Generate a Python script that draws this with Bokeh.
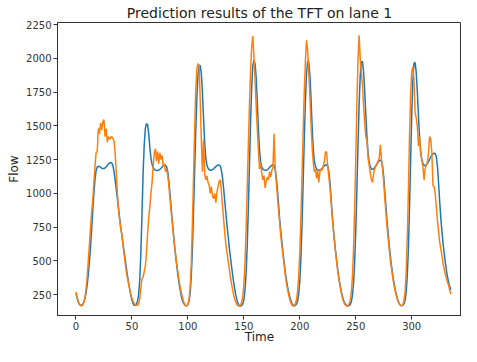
from bokeh.plotting import figure
from bokeh.models import FixedTicker, Range1d
from bokeh.embed import file_html
from bokeh.resources import INLINE

title_text = "Prediction results of the TFT on lane 1"
x_label = "Time"
y_label = "Flow"
x_ticks = [0, 50, 100, 150, 200, 250, 300, 350]
y_ticks = [250, 500, 750, 1000, 1250, 1500, 1750, 2000, 2250]

# smooth series (blue), one value per time step, day by day
pred_day1 = [260, 225, 195, 178, 170, 170, 178, 195, 220, 260, 320, 400, 490, 600, 730, 870, 1000, 1100, 1170, 1195,
             1200, 1198, 1192, 1186, 1183, 1183, 1188, 1196, 1207, 1217, 1225, 1228, 1225, 1205, 1160, 1100, 1030, 960,
             890, 820, 750, 690, 630, 570, 510, 450, 390, 340, 290, 245, 210, 185]
pred_day2 = [170, 170, 178, 200, 250, 360, 560, 850, 1150, 1360, 1480, 1515, 1510, 1440, 1340, 1260, 1215, 1190, 1178,
             1172, 1168, 1168, 1172, 1178, 1186, 1195, 1203, 1208, 1208, 1195, 1160, 1090, 1000, 900, 800, 710, 620, 540,
             470, 400, 340, 290, 245, 210, 188, 175]
pred_day3 = [168, 168, 175, 200, 260, 380, 580, 850, 1150, 1450, 1700, 1870, 1940, 1948, 1890, 1750, 1560, 1380, 1260,
             1210, 1185, 1175, 1170, 1170, 1175, 1182, 1190, 1198, 1205, 1210, 1210, 1200, 1170, 1110, 1030, 940, 850,
             760, 680, 600, 530, 460, 395, 335, 285, 240, 205, 180, 168, 165]
pred_day4 = [168, 180, 210, 280, 400, 600, 880, 1200, 1520, 1780, 1940, 1986, 1960, 1860, 1680, 1480, 1320, 1230, 1195,
             1180, 1172, 1170, 1170, 1175, 1182, 1192, 1200, 1208, 1210, 1205, 1180, 1120, 1030, 920, 810, 720, 640, 560,
             490, 420, 360, 310, 270, 235, 205, 185, 172, 166]
pred_day5 = [170, 178, 200, 250, 350, 520, 770, 1080, 1400, 1680, 1880, 1980, 1970, 1880, 1710, 1500, 1330, 1240, 1200,
             1180, 1172, 1170, 1172, 1178, 1186, 1195, 1203, 1210, 1212, 1200, 1160, 1080, 960, 840, 740, 650, 570, 500,
             430, 370, 320, 275, 240, 210, 190, 176, 168, 166]
pred_day6 = [168, 175, 195, 240, 330, 480, 720, 1020, 1350, 1650, 1870, 1975, 1975, 1900, 1760, 1580, 1420, 1300, 1230,
             1195, 1180, 1178, 1182, 1192, 1205, 1218, 1230, 1240, 1245, 1240, 1200, 1120, 1010, 900, 790, 700, 610, 530,
             460, 400, 345, 300, 260, 228, 200, 182, 170, 166]
pred_day7 = [170, 180, 205, 260, 380, 580, 880, 1230, 1570, 1830, 1960, 1970, 1900, 1760, 1580, 1420, 1310, 1250, 1220,
             1208, 1205, 1210, 1220, 1235, 1252, 1268, 1282, 1292, 1297, 1295, 1270, 1200, 1080, 940, 820, 720, 630, 560,
             490, 430, 380, 340, 310, 285]

# noisy series (orange)
obs_day1 = [270, 230, 200, 180, 168, 165, 172, 190, 225, 290, 380, 500, 620, 740, 860, 950, 1080, 1200, 1300, 1310,
            1480, 1440, 1520, 1470, 1530, 1545, 1420, 1480, 1380, 1420, 1400, 1415, 1420, 1405, 1390, 1300, 1160, 1000,
            880, 800, 740, 700, 620, 550, 480, 420, 370, 330]
obs_day2 = [290, 255, 225, 200, 185, 175, 170, 170, 180, 220, 300, 370, 380, 420, 460, 560, 700, 820, 900, 1000, 1080,
            1200, 1300, 1330, 1240, 1310, 1220, 1300, 1250, 1280, 1200, 1220, 1160, 1180, 1130, 1060, 960, 870, 790, 700,
            620, 550, 480, 420, 360, 310, 270, 235, 205, 180, 168, 165]
obs_day3 = [175, 210, 300, 470, 760, 1100, 1450, 1750, 1920, 1960, 1950, 1700, 1400, 1160, 1400, 1150, 1100, 1130, 1080,
            1060, 1000, 1050, 980, 960, 1000, 930, 1010, 1050, 1090, 1100, 1010, 900, 800, 700, 620, 560, 500, 440, 380,
            330, 285, 245, 215, 190, 175, 165, 165, 172]
obs_day4 = [190, 230, 320, 480, 720, 1020, 1350, 1650, 1900, 2080, 2165, 2020, 1850, 1650, 1480, 1320, 1180, 1230, 1150,
            1100, 1130, 1040, 1090, 1120, 1100, 1160, 1120, 1170, 1190, 1440, 1200, 1080, 980, 880, 780, 690, 610, 540,
            470, 400, 340, 290, 250, 215, 190, 172, 165, 168]
obs_day5 = [180, 210, 270, 380, 560, 820, 1130, 1450, 1750, 1980, 2133, 2060, 1900, 1720, 1520, 1350, 1230, 1160, 1180,
            1110, 1170, 1080, 1160, 1180, 1170, 1200, 1240, 1310, 1300, 1200, 1120, 1040, 930, 830, 730, 640, 560, 490,
            420, 360, 310, 265, 230, 200, 180, 170, 165, 168]
obs_day6 = [180, 205, 260, 380, 580, 880, 1250, 1650, 1980, 2170, 2000, 1900, 1800, 1650, 1520, 1420, 1390, 1260, 1210,
            1150, 1100, 1080, 1150, 1180, 1200, 1220, 1240, 1260, 1360, 1250, 1180, 1080, 960, 850, 750, 660, 580, 500,
            440, 380, 330, 285, 250, 220, 195, 180, 170, 167]
obs_day7 = [175, 200, 260, 400, 650, 1000, 1400, 1720, 1900, 1937, 1850, 1600, 1560, 1500, 1350, 1420, 1300, 1250, 1200,
            1100, 1180, 1210, 1230, 1300, 1420, 1400, 1300, 1060, 1050, 1000, 900, 800, 720, 640, 590, 540, 480, 440,
            400, 370, 340, 320, 280, 255]

predicted = pred_day1 + pred_day2 + pred_day3 + pred_day4 + pred_day5 + pred_day6 + pred_day7
observed = obs_day1 + obs_day2 + obs_day3 + obs_day4 + obs_day5 + obs_day6 + obs_day7
time_pred = list(range(len(predicted)))
time_obs = list(range(len(observed)))

FONT = "DejaVu Sans"

p = figure(width=461, height=346, output_backend="svg", toolbar_location=None,
           x_range=Range1d(-16.5, 344.5), y_range=Range1d(95, 2265),
           min_border_left=57, min_border_right=0, min_border_top=0, min_border_bottom=0,
           background_fill_color="white", border_fill_color="white")

p.title.text = title_text
p.title.align = "center"
p.title.text_font = FONT
p.title.text_font_size = "14px"
p.title.text_font_style = "normal"
p.title.text_color = "#222222"
p.title.standoff = 4
p.title.offset = 0

p.line(time_pred, predicted, line_color="#1f77b4", line_width=1.5)
p.line(time_obs, observed, line_color="#ff7f0e", line_width=1.5)

p.xgrid.visible = False
p.ygrid.visible = False
p.outline_line_color = "#333333"
p.outline_line_width = 1

for ax in (p.xaxis[0], p.yaxis[0]):
    ax.axis_line_color = "#333333"
    ax.major_tick_line_color = "#333333"
    ax.minor_tick_line_color = None
    ax.major_tick_out = 4
    ax.major_tick_in = 0
    ax.major_label_text_font = FONT
    ax.major_label_text_font_size = "10px"
    ax.major_label_text_color = "#333333"
    ax.axis_label_text_font = FONT
    ax.axis_label_text_font_size = "12px"
    ax.axis_label_text_font_style = "normal"
    ax.axis_label_text_color = "#222222"

p.xaxis[0].ticker = FixedTicker(ticks=x_ticks)
p.yaxis[0].ticker = FixedTicker(ticks=y_ticks)
p.xaxis[0].axis_label = x_label
p.yaxis[0].axis_label = y_label
p.xaxis[0].major_label_standoff = 2
p.xaxis[0].axis_label_standoff = -3
p.yaxis[0].major_label_standoff = 2
p.yaxis[0].axis_label_standoff = 2

open("out.html", "w").write(file_html(p, INLINE))
